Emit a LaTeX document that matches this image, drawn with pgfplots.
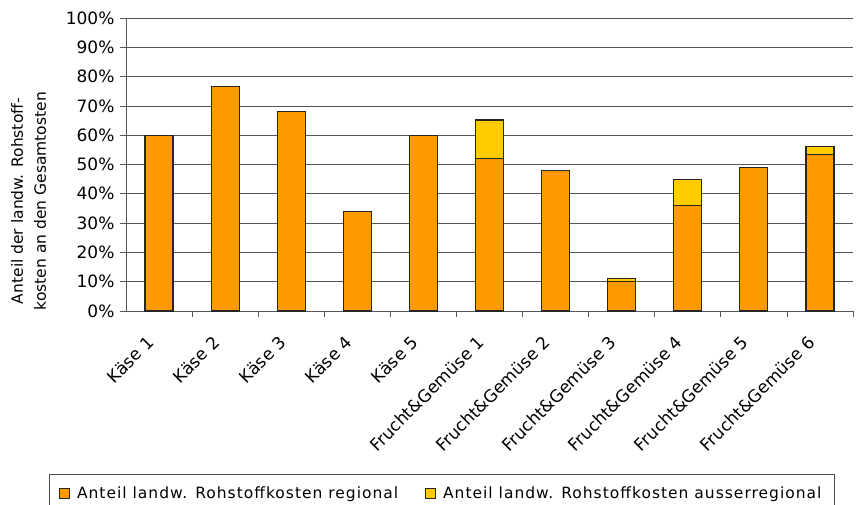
\documentclass[border=0pt]{standalone}
\usepackage{pgfplots}
\pgfplotsset{compat=1.18}
\usepackage{fontspec}
\setmainfont{DejaVu Sans}
\newfontfamily\legendfont[LetterSpace=6.5]{DejaVu Sans}
\definecolor{reg}{HTML}{FF9900}
\definecolor{ausreg}{HTML}{FFCC00}
\definecolor{gridc}{HTML}{555555}
\begin{document}
\begin{tikzpicture}
\path[use as bounding box] (-126pt,-193pt) rectangle (740pt,311pt);
\begin{axis}[
  at={(0,0)}, anchor=south west,
  scale only axis, width=727pt, height=293pt,
  ybar, bar width=28pt,
  xmin=-0.5, xmax=10.5, ymin=0, ymax=100,
  axis x line*=bottom, axis y line*=left,
  axis line style={line width=0.8pt, color=gridc},
  xtick={0,...,10},
  xticklabels={Käse 1,Käse 2,Käse 3,Käse 4,Käse 5,Frucht\&Gemüse 1,Frucht\&Gemüse 2,Frucht\&Gemüse 3,Frucht\&Gemüse 4,Frucht\&Gemüse 5,Frucht\&Gemüse 6},
  x tick label style={rotate=45, anchor=north east, font=\fontsize{17}{20}\selectfont, inner sep=1pt, xshift=-21pt, yshift=-2pt},
  major x tick style={draw=none},
  minor xtick={0.5,1.5,...,9.5,10.5},
  minor x tick style={line width=0.8pt, color=gridc},
  minor tick length=6pt,
  ytick={0,10,...,100},
  yticklabels={0\%,10\%,20\%,30\%,40\%,50\%,60\%,70\%,80\%,90\%,100\%},
  y tick label style={font=\fontsize{17}{20}\selectfont, xshift=-2pt},
  tick align=outside, major tick length=6pt,
  y tick style={line width=0.8pt, color=gridc},
  ymajorgrids, grid style={line width=0.8pt, color=gridc},
  ylabel={Anteil der landw. Rohstoff-\\kosten an den Gesamtosten},
  ylabel style={at={(axis description cs:-0.134,0.375)}, anchor=center, align=center, font=\fontsize{15.5}{23}\selectfont},
  legend columns=2, reverse legend,
  legend style={at={(axis description cs:-0.106,-0.556)}, anchor=north west, draw=black!70, line width=0.6pt, font=\legendfont\fontsize{15.5}{18}\selectfont, inner xsep=10pt, inner ysep=10pt, nodes={inner sep=3pt}},
  legend image code/.code={\draw[#1, line width=0.8pt] (0pt,-5pt) rectangle (10pt,5pt);},
]
% total (regional + ausserregional), drawn first
\addplot[bar shift=0pt, fill=ausreg, draw=black!85, line width=1.1pt] coordinates {(5,65.2) (7,11) (8,45) (10,56)};
\addlegendentry{\hspace*{4pt}Anteil landw. Rohstoffkosten ausserregional}
% regional part
\addplot[bar shift=0pt, fill=reg, draw=black!85, line width=1.1pt] coordinates {(0,60) (1,76.5) (2,68) (3,34) (4,60) (5,52) (6,48) (7,10) (8,36) (9,49) (10,53.3)};
\addlegendentry{\hspace*{4pt}Anteil landw. Rohstoffkosten regional\hspace*{24pt}}
\end{axis}
\end{tikzpicture}
\end{document}
